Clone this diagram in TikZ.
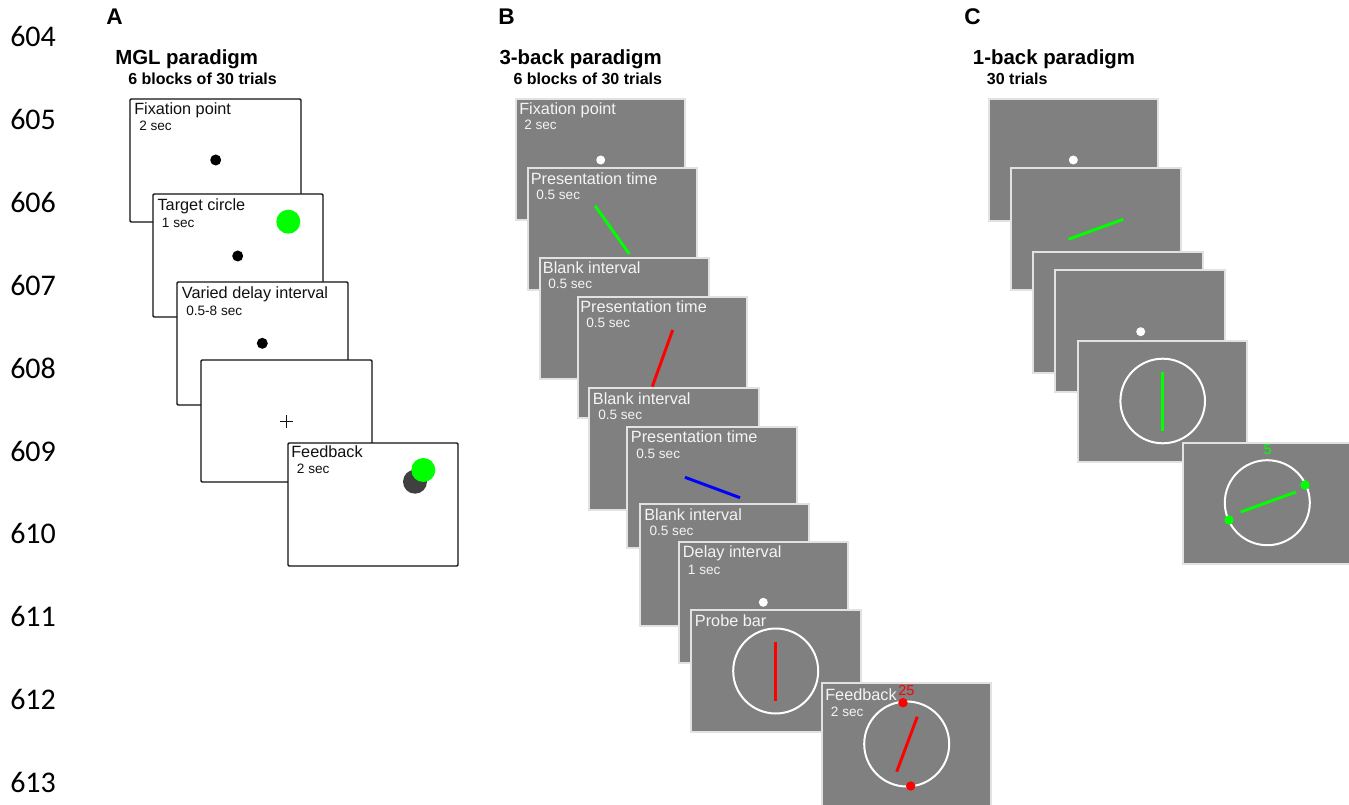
\documentclass[tikz,border=0pt]{standalone}
\usepackage{fontspec}
\setmainfont{Liberation Sans}
\newfontfamily\numfont{Carlito}
\definecolor{boxgray}{HTML}{808080}
\definecolor{boxedge}{HTML}{E2E2E2}
\definecolor{scrgreen}{HTML}{00FF00}
\definecolor{scrred}{HTML}{FF0000}
\definecolor{scrblue}{HTML}{0000FF}
\definecolor{darkdot}{HTML}{404040}
\definecolor{wtext}{HTML}{F4F4F4}
\definecolor{btext}{HTML}{111111}
\tikzset{
  wbox/.style={draw=btext, fill=white, line width=1pt, rounded corners=0.8pt},
  gbox/.style={draw=boxedge, fill=boxgray, line width=0.8pt},
  lett/.style={anchor=base west, inner sep=0pt, font=\fontsize{17}{20}\selectfont\bfseries},
  ptitle/.style={anchor=base west, inner sep=0pt, font=\fontsize{15.3}{18}\selectfont\bfseries},
  psub/.style={anchor=base west, inner sep=0pt, font=\fontsize{12}{14}\selectfont\bfseries},
  ttl/.style={anchor=base west, inner sep=0pt, font=\fontsize{12.2}{14}\selectfont},
  dur/.style={anchor=base west, inner sep=0pt, font=\fontsize{10.2}{12}\selectfont},
  lnum/.style={anchor=base west, inner sep=0pt, font=\fontsize{22.5}{26}\selectfont\numfont},
  gt/.style={text=wtext},
  bt/.style={text=btext},
  bar/.style={line width=2.2pt},
  ring/.style={draw=white, line width=1.5pt},
}
\begin{document}
\begin{tikzpicture}[x=0.75pt, y=-0.75pt]
\useasboundingbox (0,0) rectangle (1349,805);
% line numbers
\node[lnum] (n604) at (10,47) {604};
\node[lnum] (n605) at (10,129.8) {605};
\node[lnum] (n606) at (10,212.6) {606};
\node[lnum] (n607) at (10,295.4) {607};
\node[lnum] (n608) at (10,378.2) {608};
\node[lnum] (n609) at (10,461) {609};
\node[lnum] (n610) at (10,543.8) {610};
\node[lnum] (n611) at (10,626.6) {611};
\node[lnum] (n612) at (10,709.4) {612};
\node[lnum] (n613) at (10,792.2) {613};

% ================= Panel A
\node[lett] (labA) at (106,25) {A};
\node[ptitle] (titA) at (115,65) {MGL paradigm};
\node[psub] (subA) at (128,85) {6 blocks of 30 trials};

\draw[wbox] (130,99) rectangle (301,222);
\node[ttl,bt] (a1t) at (134,115) {Fixation point};
\node[dur,bt] (a1d) at (139,130.5) {2 sec};
\fill[black] (215.7,160) circle (5.5);

\draw[wbox] (153,194) rectangle (323,317);
\node[ttl,bt] (a2t) at (157.3,210.7) {Target circle};
\node[dur,bt] (a2d) at (161.7,227.5) {1 sec};
\fill[scrgreen] (288.3,221.7) circle (12);
\fill[black] (237.7,256) circle (5.5);

\draw[wbox] (177,282) rectangle (348,405);
\node[ttl,bt] (a3t) at (181.7,298.3) {Varied delay interval};
\node[dur,bt] (a3d) at (186,315.5) {0.5-8 sec};
\fill[black] (262.3,343.3) circle (5.5);

\draw[wbox] (201,360) rectangle (372,482);
\draw[btext, line width=0.9pt] (280,421.7) -- (293.4,421.7) (286.7,415) -- (286.7,428.4);

\draw[wbox] (288,443) rectangle (458,566);
\node[ttl,bt] (a5t) at (291,457.3) {Feedback};
\node[dur,bt] (a5d) at (296.7,473) {2 sec};
\fill[darkdot] (415,481.7) circle (12);
\fill[scrgreen] (423.3,470) circle (12);

% ================= Panel B
\node[lett] (labB) at (498,25) {B};
\node[ptitle] (titB) at (499.3,65) {3-back paradigm};
\node[psub] (subB) at (513.3,85) {6 blocks of 30 trials};

\draw[gbox] (516,99) rectangle (685,220);
\node[ttl,gt] (b1t) at (519,115) {Fixation point};
\node[dur,gt] (b1d) at (524,130) {2 sec};
\fill[white] (600.7,160) circle (4.5);

\draw[gbox] (528,168) rectangle (697,290);
\node[ttl,gt] (b2t) at (530.5,185) {Presentation time};
\node[dur,gt] (b2d) at (536,200) {0.5 sec};
\draw[scrgreen, bar] (595,205.7) -- (629.3,254);

\draw[gbox] (540,258) rectangle (709,379);
\node[ttl,gt] (b3t) at (542.7,274) {Blank interval};
\node[dur,gt] (b3d) at (548,289) {0.5 sec};

\draw[gbox] (578,297) rectangle (747,418);
\node[ttl,gt] (b4t) at (580,312.7) {Presentation time};
\node[dur,gt] (b4d) at (586,328) {0.5 sec};
\draw[scrred, bar] (672.7,330) -- (652.3,386.5);

\draw[gbox] (589,388) rectangle (759,510);
\node[ttl,gt] (b5t) at (592.7,404) {Blank interval};
\node[dur,gt] (b5d) at (598,420) {0.5 sec};

\draw[gbox] (627,427) rectangle (797,548);
\node[ttl,gt] (b6t) at (630.7,442.3) {Presentation time};
\node[dur,gt] (b6d) at (636,458) {0.5 sec};
\draw[scrblue, bar] (685,477.3) -- (740,497.7);

\draw[gbox] (640,504) rectangle (809,626);
\node[ttl,gt] (b7t) at (644,520) {Blank interval};
\node[dur,gt] (b7d) at (649.3,535.7) {0.5 sec};

\draw[gbox] (679,542) rectangle (848,663);
\node[ttl,gt] (b8t) at (682.7,557.3) {Delay interval};
\node[dur,gt] (b8d) at (687.7,574.3) {1 sec};
\fill[white] (763.3,602.3) circle (4.5);

\draw[gbox] (691,610) rectangle (861,732);
\node[ttl,gt] (b9t) at (694.7,626.7) {Probe bar};
\draw[ring] (775.7,671) circle (42.5);
\draw[scrred, bar] (775.7,642.3) -- (775.7,701);

\draw[gbox] (822,683) rectangle (991,806);
\node[ttl,gt] (b10t) at (825,700) {Feedback};
\node[dur,text=scrred] (b10n) at (898,695) {\fontsize{10.8}{12}\selectfont 25};
\node[dur,gt] (b10d) at (830.7,716.7) {2 sec};
\draw[ring] (906.7,744) circle (42.5);
\draw[scrred, bar] (917.3,716.7) -- (896.7,771.7);
\fill[scrred] (903,702.7) circle (4.7);
\fill[scrred] (910.7,786) circle (4.7);

% ================= Panel C
\node[lett] (labC) at (964,25) {C};
\node[ptitle] (titC) at (972.7,65) {1-back paradigm};
\node[psub] (subC) at (986.7,85) {30 trials};

\draw[gbox] (989,99) rectangle (1158,221);
\fill[white] (1073.3,160) circle (4.5);

\draw[gbox] (1011,168) rectangle (1181,290);
\draw[scrgreen, bar] (1068.3,239.3) -- (1123.3,219.3);

\draw[gbox] (1033,252) rectangle (1203,373);

\draw[gbox] (1055,270) rectangle (1225,392);
\fill[white] (1140.7,331.7) circle (4.5);

\draw[gbox] (1078,341) rectangle (1247,462);
\draw[ring] (1162.7,401) circle (42.3);
\draw[scrgreen, bar] (1162.7,372.3) -- (1162.7,430.7);

\draw[gbox] (1183,443) rectangle (1352,564);
\node[anchor=base, inner sep=0pt, text=scrgreen, font=\fontsize{11}{13}\selectfont] (c6n) at (1267.7,455) {5};
\draw[ring] (1267.3,502.7) circle (42.5);
\draw[scrgreen, bar] (1240.7,512) -- (1296,492);
\fill[scrgreen] (1305,485) circle (4.7);
\fill[scrgreen] (1229,520) circle (4.7);
\end{tikzpicture}
\end{document}
